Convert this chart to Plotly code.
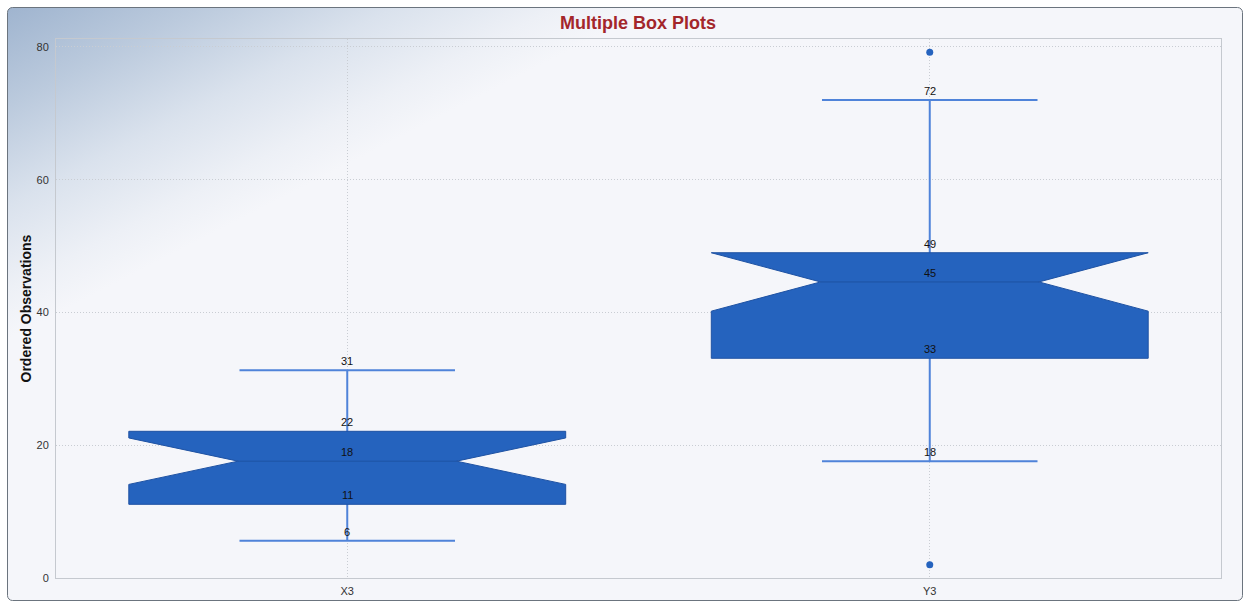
import base64
import plotly.graph_objects as go

# ---------------- data ----------------
categories = ["X3", "Y3"]
lower_whisker = [5.6, 17.6]
q1_vals = [11.1, 33.1]
median_vals = [17.6, 44.6]
q3_vals = [22.1, 49.0]
upper_whisker = [31.3, 72.0]
notch_span = [3.5, 4.4]
outlier_cats = ["Y3", "Y3"]
outlier_vals = [79.2, 2.0]
y_ticks = [0, 20, 40, 60, 80]

# ---------------- styles ----------------
W, H = 1249, 605
ML, MR, MT, MB = 56, 28, 39, 27
PW, PH = W - ML - MR, H - MT - MB
BOX_FILL = "#2563BE"
BOX_EDGE = "#1E52A3"
WHISKER = "#4F83D9"
FONT = "Liberation Sans, Arial, sans-serif"

fig = go.Figure()

# whiskers + caps (degenerate box hidden behind the notched box)
fig.add_trace(go.Box(
    x=categories,
    q1=median_vals, median=median_vals, q3=median_vals,
    lowerfence=lower_whisker, upperfence=upper_whisker,
    width=0.37, whiskerwidth=1,
    line=dict(color=WHISKER, width=2),
    fillcolor="rgba(0,0,0,0)",
    boxpoints=False, hoverinfo="skip", showlegend=False,
))

# notched boxes
fig.add_trace(go.Box(
    x=categories,
    q1=q1_vals, median=median_vals, q3=q3_vals,
    lowerfence=q1_vals, upperfence=q3_vals,
    notched=True, notchspan=notch_span, notchwidth=0.25,
    width=0.75, whiskerwidth=0,
    line=dict(color=BOX_EDGE, width=1),
    fillcolor=BOX_FILL,
    boxpoints=False, showlegend=False,
))

# outliers
fig.add_trace(go.Scatter(
    x=outlier_cats, y=outlier_vals, mode="markers",
    marker=dict(color=BOX_FILL, size=7, line=dict(width=0)),
    showlegend=False,
))

# value labels
labels = []
for i, c in enumerate(categories):
    for v in (lower_whisker[i], q1_vals[i], median_vals[i], q3_vals[i], upper_whisker[i]):
        labels.append(dict(x=c, y=v, xref="x", yref="y", text=f"{v:.0f}",
                           showarrow=False, xanchor="center", yanchor="bottom",
                           yshift=1,
                           font=dict(family=FONT, size=11, color="#111111")))

# background: gradient panel with rounded border
svg = f'''<svg xmlns="http://www.w3.org/2000/svg" width="{W}" height="{H}" viewBox="0 0 {W} {H}" preserveAspectRatio="none">
<defs><linearGradient id="g" gradientUnits="userSpaceOnUse" x1="7" y1="7" x2="142" y2="270">
<stop offset="0" stop-color="#9FB4CF"/>
<stop offset="0.3" stop-color="#BBCADD"/>
<stop offset="0.6" stop-color="#DAE2ED"/>
<stop offset="0.85" stop-color="#EDF0F6"/>
<stop offset="1" stop-color="#F5F6FA"/>
</linearGradient></defs>
<rect x="0" y="0" width="{W}" height="{H}" fill="#FFFFFF"/>
<rect x="7.5" y="7.5" width="{W-14}" height="{H-12}" rx="5" ry="5" fill="url(#g)" stroke="#6B747E" stroke-width="1"/>
</svg>'''
src = "data:image/svg+xml;base64," + base64.b64encode(svg.encode()).decode()

fig.update_layout(
    width=W, height=H,
    margin=dict(l=ML, r=MR, t=MT, b=MB, autoexpand=False),
    paper_bgcolor="#FFFFFF",
    plot_bgcolor="rgba(0,0,0,0)",
    boxmode="overlay",
    title=dict(text="<b>Multiple Box Plots</b>", x=638 / W, xref="container", xanchor="center",
               y=1 - 23 / H, yref="container", yanchor="middle", automargin=False,
               font=dict(family=FONT, size=18, color="#A3262B")),
    images=[dict(source=src, xref="paper", yref="paper",
                 x=-ML / PW, y=1 + MT / PH, sizex=W / PW, sizey=H / PH,
                 xanchor="left", yanchor="top", sizing="stretch", layer="below")],
    annotations=[dict(text="<b>Ordered Observations</b>", textangle=-90,
                      xref="paper", yref="paper", x=(25 - ML) / PW, y=0.5,
                      xanchor="center", yanchor="middle", showarrow=False,
                      font=dict(family=FONT, size=14, color="#111111"))] + labels,
    font=dict(family=FONT),
)
fig.update_xaxes(
    type="category", range=[-0.5, 1.5], automargin=False,
    showgrid=True, gridcolor="#C9CDD3", griddash="1px,2px", gridwidth=1,
    showline=True, linecolor="#C5C9CF", linewidth=1, mirror=True,
    tickfont=dict(family=FONT, size=11, color="#333333"),
    ticks="", zeroline=False, ticklabelstandoff=3,
)
fig.update_yaxes(
    range=[0, 81.2], tickvals=y_ticks, automargin=False,
    showgrid=True, gridcolor="#C9CDD3", griddash="1px,2px", gridwidth=1,
    showline=True, linecolor="#C5C9CF", linewidth=1, mirror=True,
    tickfont=dict(family=FONT, size=11, color="#333333"),
    ticks="", zeroline=False, ticklabelstandoff=4,
)

fig.write_html("out.html")
